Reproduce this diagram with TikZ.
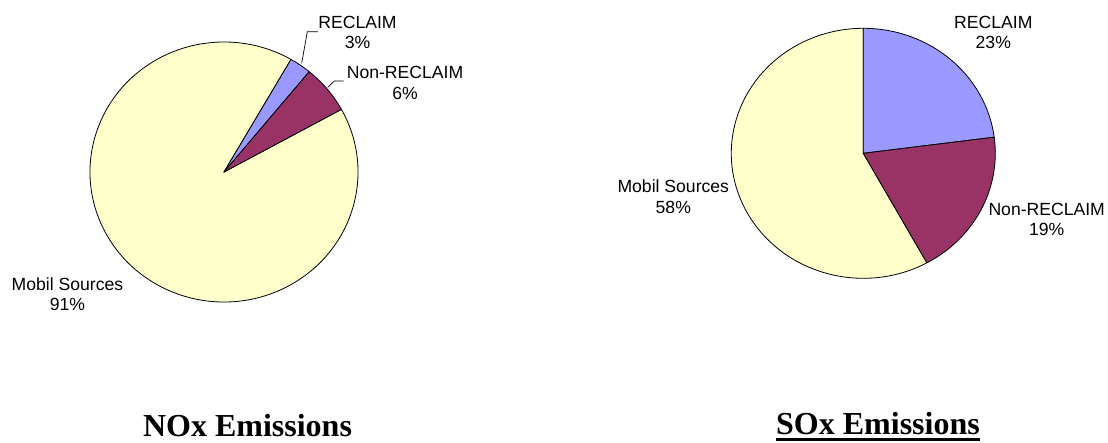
\documentclass[tikz,border=0pt]{standalone}
\usepackage{fontspec}
\setmainfont{Liberation Serif}
\newfontfamily\labelfont{Liberation Sans}
\begin{document}
\begin{tikzpicture}[x=1pt,y=1pt,
  slice/.style={draw=black,line width=0.8pt,line join=round},
  mobil/.style={slice,fill=mobilcol},
  reclaim/.style={slice,fill=reclaimcol},
  nonreclaim/.style={slice,fill=nonreclaimcol},
  leader/.style={draw=black,line width=0.7pt},
  lbl/.style={font=\labelfont\fontsize{17.6}{20.5}\selectfont,align=center,inner sep=0pt},
  ttl/.style={font=\bfseries\fontsize{32}{36}\selectfont,inner sep=0pt,anchor=base}]
\definecolor{mobilcol}{HTML}{FFFFCC}
\definecolor{reclaimcol}{HTML}{9999FF}
\definecolor{nonreclaimcol}{HTML}{993366}
\useasboundingbox (0,0) rectangle (1108,442);

% ---- NOx pie ----
\coordinate (nc) at (224,270);
\path[mobil] (nc) -- ++(28.8:134pt and 130pt)
  arc[start angle=28.8,end angle=-300,x radius=134pt,y radius=130pt] -- cycle;
\path[reclaim] (nc) -- ++(60:134pt and 130pt)
  arc[start angle=60,end angle=50.5,x radius=134pt,y radius=130pt] -- cycle;
\path[nonreclaim] (nc) -- ++(50.5:134pt and 130pt)
  arc[start angle=50.5,end angle=28.8,x radius=134pt,y radius=130pt] -- cycle;

\node[lbl] (nrec) at (357.5,409.8) {RECLAIM\\3\%};
\node[lbl] (nnon) at (405,359) {Non-RECLAIM\\6\%};
\node[lbl] (nmob) at (67.5,147.8) {Mobil Sources\\91\%};

\coordinate (nrecA) at (301.7,378.7);
\coordinate (nrecB) at (307.3,410.3);
\draw[leader] (nrecA) -- (nrecB) -- (nrec.west |- nrecB);
\coordinate (nnonA) at (327.7,354.7);
\coordinate (nnonB) at (334.3,361);
\draw[leader] (nnonA) -- (nnonB) -- ([xshift=-3pt]nnon.west |- nnonB);

\node[ttl] (nox) at (247.5,5.5) {NOx Emissions};

% ---- SOx pie ----
\coordinate (sc) at (863.3,288.7);
\path[mobil] (sc) -- ++(-61.2:132pt and 125pt)
  arc[start angle=-61.2,end angle=-270,x radius=132pt,y radius=125pt] -- cycle;
\path[reclaim] (sc) -- ++(90:132pt and 125pt)
  arc[start angle=90,end angle=7.4,x radius=132pt,y radius=125pt] -- cycle;
\path[nonreclaim] (sc) -- ++(7.4:132pt and 125pt)
  arc[start angle=7.4,end angle=-61.2,x radius=132pt,y radius=125pt] -- cycle;

\node[lbl] (srec) at (993.3,409.5) {RECLAIM\\23\%};
\node[lbl] (snon) at (1046.7,222.7) {Non-RECLAIM\\19\%};
\node[lbl] (smob) at (673.3,245.3) {Mobil Sources\\58\%};

\node[ttl] (sox) at (878,8) {SOx Emissions};
\draw[line width=3pt] ([yshift=-5pt]sox.base west) -- ([yshift=-5pt]sox.base east);
\end{tikzpicture}
\end{document}
